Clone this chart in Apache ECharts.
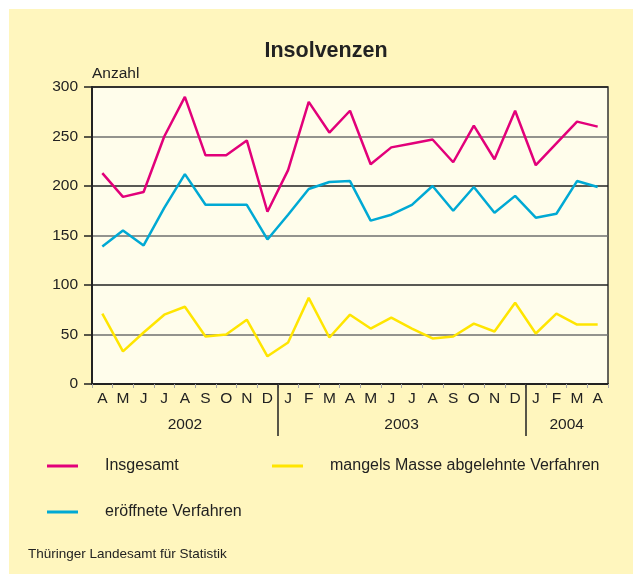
<!DOCTYPE html>
<html>
<head>
<meta charset="utf-8">
<script src="https://cdn.jsdelivr.net/npm/echarts@6/dist/echarts.min.js"></script>
<style>
  html, body { margin: 0; padding: 0; background: #ffffff; }
  #wrap { position: relative; width: 633px; height: 574px; overflow: hidden; }
  #bg { position: absolute; left: 9px; top: 9px; right: 0; bottom: 0; background: #FFF6BE; }
  #chart { position: absolute; left: 0; top: 0; width: 633px; height: 574px; }
</style>
</head>
<body>
<div id="wrap"><div id="bg"></div><div id="chart"></div></div>
<script>
// Months April 2002 – April 2004
const months = ['A','M','J','J','A','S','O','N','D','J','F','M','A','M','J','J','A','S','O','N','D','J','F','M','A'];
const years = ['2002', '2003', '2004'];
const monthsPerYear = [9, 12, 4];

const insgesamt = [213, 189, 194, 250, 290, 231, 231, 246, 174, 216, 285, 254, 276, 222, 239, 243, 247, 224, 261, 227, 276, 221, 243, 265, 260];
const eroeffnet = [139, 155, 140, 178, 212, 181, 181, 181, 146, 171, 197, 204, 205, 165, 171, 181, 200, 175, 199, 173, 190, 168, 172, 205, 199];
const mangels   = [71, 33, 52, 70, 78, 48, 50, 65, 28, 42, 87, 47, 70, 56, 67, 56, 46, 48, 61, 53, 82, 51, 71, 60, 60];

const yTicks = [0, 50, 100, 150, 200, 250, 300];

// derived year label positions and separators
const yearCenters = [];
const yearSeparators = [];
let start = 0;
monthsPerYear.forEach((n, i) => {
  yearCenters.push(start + (n - 1) / 2);
  if (i < monthsPerYear.length - 1) yearSeparators.push(start + n - 0.5);
  start += n;
});

const FONT = '"Liberation Sans", Arial, Helvetica, sans-serif';
const TXT = '#222222';
const PINK = '#E2007A';
const BLUE = '#00A9D4';
const YEL = '#FFE500';

const chart = echarts.init(document.getElementById('chart'), null, { renderer: 'canvas' });

function legendBox(name, left, top) {
  return {
    data: [name],
    left: left, top: top,
    padding: 0,
    icon: 'rect',
    itemWidth: 31, itemHeight: 3,
    selectedMode: false,
    textStyle: { fontFamily: FONT, fontSize: 16, color: TXT, padding: [0, 0, 0, 22] }
  };
}

chart.setOption({
  backgroundColor: 'transparent',
  animation: false,
  textStyle: { fontFamily: FONT },
  title: {
    text: 'Insolvenzen',
    left: 321, top: 35, textAlign: 'center',
    textStyle: { fontFamily: FONT, fontSize: 21.5, fontWeight: 'bold', color: TXT }
  },
  graphic: [{
    type: 'text', left: 28, top: 547,
    style: { text: 'Thüringer Landesamt für Statistik', font: '13.5px ' + FONT, fill: TXT }
  }],
  legend: [
    legendBox('Insgesamt', 47, 458),
    legendBox('mangels Masse abgelehnte Verfahren', 272, 458),
    legendBox('eröffnete Verfahren', 47, 504)
  ],
  grid: {
    left: 92, right: 25, top: 87, bottom: 190,
    show: true, backgroundColor: '#FFFDEB', borderColor: '#333333', borderWidth: 1.5
  },
  xAxis: [{
    type: 'category',
    data: months,
    boundaryGap: true,
    axisLine: { show: true, onZero: false, lineStyle: { color: '#222', width: 2 } },
    axisTick: { show: true, length: 4, lineStyle: { color: '#aaa', width: 1 } },
    axisLabel: { margin: 7, fontSize: 15.5, color: TXT, fontFamily: FONT, interval: 0 },
    splitLine: { show: false }
  }, {
    type: 'value',
    position: 'bottom',
    min: -0.5, max: 24.5, interval: 0.5,
    axisLine: { show: false, onZero: false },
    splitLine: { show: false },
    axisTick: { show: true, customValues: yearSeparators, length: 52, lineStyle: { color: '#222', width: 1.5 } },
    axisLabel: {
      show: true, customValues: yearCenters, margin: 33, fontSize: 15.5, color: TXT, fontFamily: FONT,
      formatter: function (v) {
        const i = yearCenters.indexOf(v);
        return i >= 0 ? years[i] : '';
      }
    }
  }],
  yAxis: {
    type: 'value',
    min: yTicks[0], max: yTicks[yTicks.length - 1], interval: 50,
    name: 'Anzahl',
    nameLocation: 'end',
    nameGap: 5,
    nameTextStyle: { align: 'left', verticalAlign: 'bottom', fontSize: 15.5, color: TXT, fontFamily: FONT },
    axisLine: { show: true, onZero: false, lineStyle: { color: '#222', width: 2 } },
    axisTick: { show: true, length: 8, lineStyle: { color: '#222', width: 1.5 } },
    axisLabel: { margin: 14, fontSize: 15.5, color: TXT, fontFamily: FONT },
    splitLine: { show: true, lineStyle: { color: ['#222222', '#6f6f6f'], width: 1.5 } }
  },
  series: [
    { name: 'Insgesamt', type: 'line', data: insgesamt, symbol: 'none', color: PINK, lineStyle: { width: 2.5, color: PINK }, z: 5 },
    { name: 'mangels Masse abgelehnte Verfahren', type: 'line', data: mangels, symbol: 'none', color: YEL, lineStyle: { width: 2.5, color: YEL }, z: 3 },
    { name: 'eröffnete Verfahren', type: 'line', data: eroeffnet, symbol: 'none', color: BLUE, lineStyle: { width: 2.5, color: BLUE }, z: 4 }
  ]
});
</script>
</body>
</html>
